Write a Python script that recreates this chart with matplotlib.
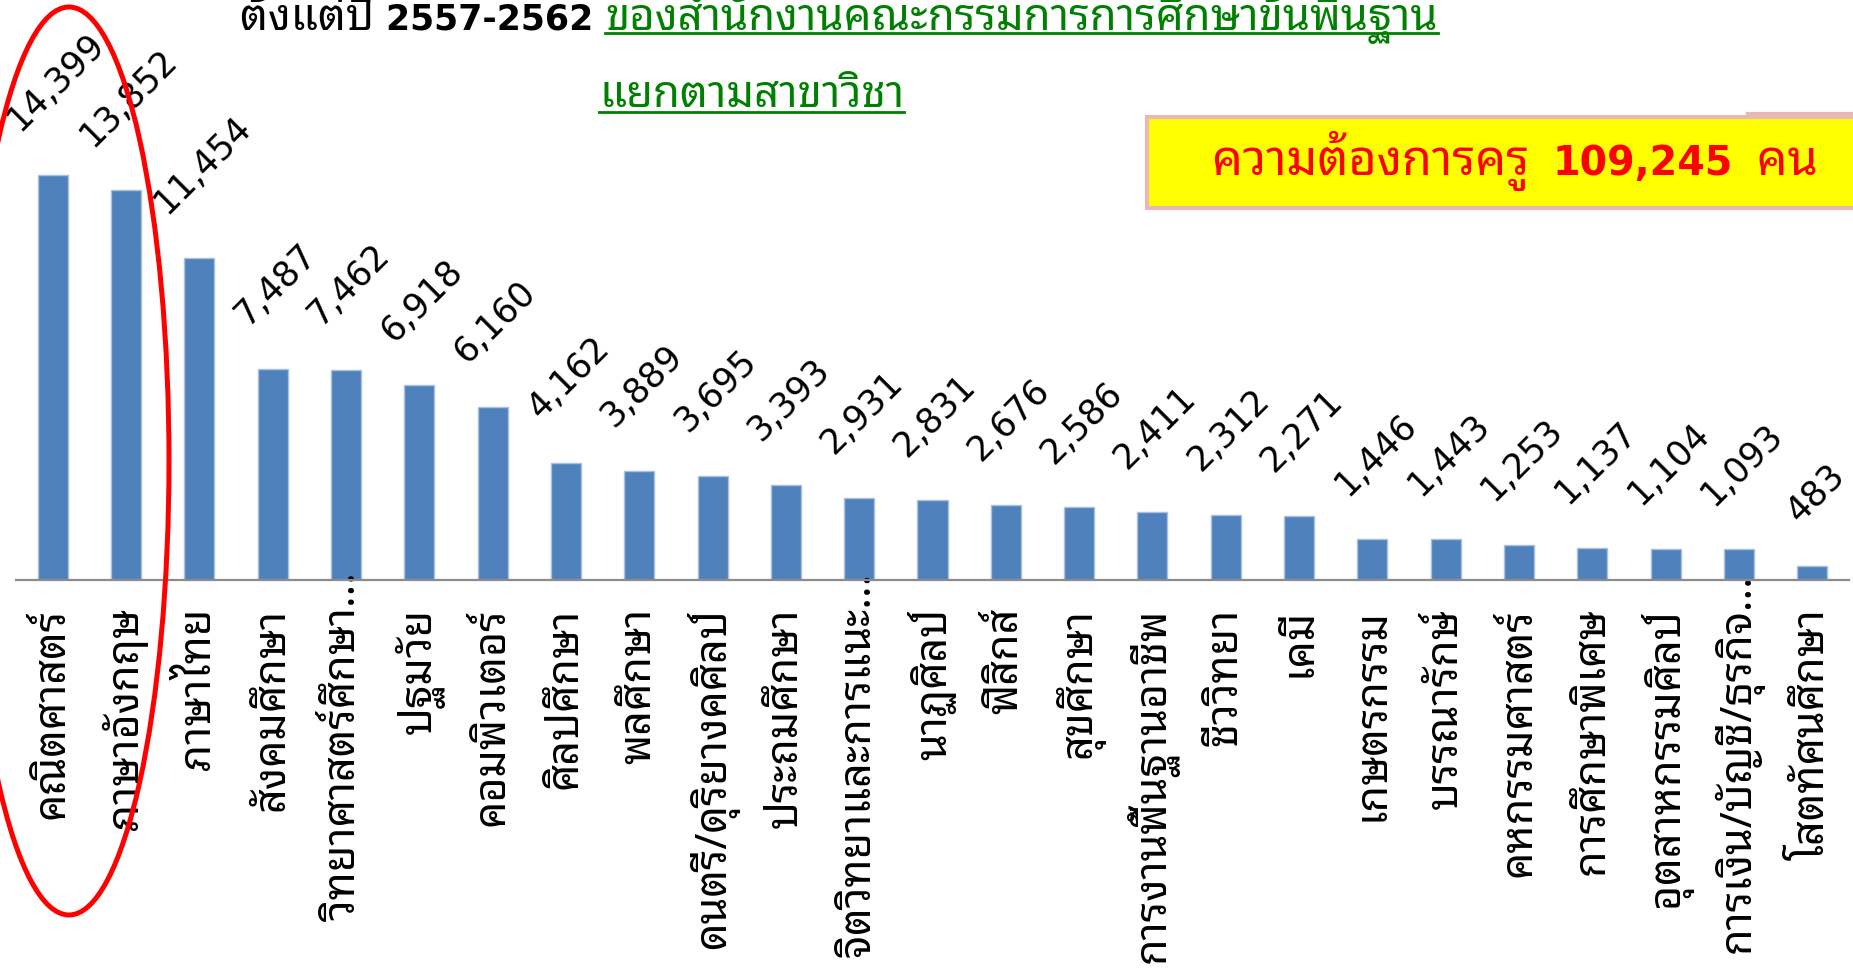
import matplotlib
matplotlib.use('Agg')
from matplotlib import pyplot as plt
from matplotlib import font_manager
from matplotlib.patches import Ellipse, Rectangle
from matplotlib.lines import Line2D
from matplotlib.transforms import ScaledTranslation

subjects = ['คณิตศาสตร์', 'ภาษาอังกฤษ', 'ภาษาไทย', 'สังคมศึกษา', 'วิทยาศาสตร์ศึกษา...',
            'ปฐมวัย', 'คอมพิวเตอร์', 'ศิลปศึกษา', 'พลศึกษา', 'ดนตรี/ดุริยางคศิลป์',
            'ประถมศึกษา', 'จิตวิทยาและการแนะ...', 'นาฏศิลป์', 'ฟิสิกส์', 'สุขศึกษา',
            'การงานพื้นฐานอาชีพ', 'ชีววิทยา', 'เคมี', 'เกษตรกรรม', 'บรรณารักษ์',
            'คหกรรมศาสตร์', 'การศึกษาพิเศษ', 'อุตสาหกรรมศิลป์', 'การเงิน/บัญชี/ธุรกิจ...', 'โสตทัศนศึกษา']
demand = [14399, 13852, 11454, 7487, 7462, 6918, 6160, 4162, 3889, 3695, 3393, 2931, 2831,
          2676, 2586, 2411, 2312, 2271, 1446, 1443, 1253, 1137, 1104, 1093, 483]
total = 109245

title_parts = [('ตั้งแต่ปี ', 'black', 'th'), ('2557-2562 ', 'black', 'num'),
               ('ของสำนักงานคณะกรรมการการศึกษาขั้นพื้นฐาน', '#008000', 'th')]
title_line2 = 'แยกตามสาขาวิชา'
box_parts = [('ความต้องการครู ', 'th'), ('{:,}'.format(total), 'num'), (' คน', 'th')]

# pick a looped thai font that is installed
installed = set(f.name for f in font_manager.fontManager.ttflist)
thai = 'DejaVu Sans'
for name in ['Noto Sans Thai Looped', 'IBM Plex Sans Thai Looped', 'Sarabun', 'Noto Sans Thai', 'Anuphan']:
    if name in installed:
        thai = name
        break
th_fam = [thai, 'DejaVu Sans']
num_fam = ['DejaVu Sans']
plt.rcParams['font.family'] = num_fam

W, H = 1853, 973
fig = plt.figure(figsize=(W / 100, H / 100), dpi=100)
ax = fig.add_axes([16 / W, 1 - 580 / H, 1833 / W, 580 / H])
ax.patch.set_alpha(0)

xs = list(range(len(demand)))
ax.bar(xs, demand, width=0.41, color='#4F81BD', edgecolor='#a9c0de', linewidth=1)
ax.set_xlim(-0.5, len(demand) - 0.5)
ax.set_ylim(0, 20620)

for k in ['top', 'right', 'left']:
    ax.spines[k].set_visible(False)
ax.spines['bottom'].set_color('#8c8c8c')
ax.spines['bottom'].set_linewidth(1.6)
ax.set_yticks([])
ax.set_xticks(xs)
ax.set_xticklabels(subjects, rotation=90, fontsize=31, fontweight='bold', family=th_fam)
ax.tick_params(axis='x', length=0, pad=20)

for i, v in enumerate(demand):
    ax.annotate('{:,}'.format(v), xy=(i, v), xytext=(2, 27), textcoords='offset points',
                rotation=45, ha='center', va='bottom', fontsize=25)

fig.canvas.draw()
r = fig.canvas.get_renderer()

# truncated labels: the dots poke up over the axis line, like the slide
probe = fig.text(0, 0, '...', fontsize=31, fontweight='bold', family=th_fam)
dots = probe.get_window_extent(r).width
probe.remove()
for lab in ax.get_xticklabels():
    if lab.get_text().endswith('...'):
        lab.set_transform(lab.get_transform() + ScaledTranslation(0, dots / 100, fig.dpi_scale_trans))


def run_text(x, y, parts, th_size, num_size, gap=0):
    # lay pieces one after another on one baseline, return pixel span
    x0 = x
    for s, color, kind in parts:
        fam, size = (th_fam, th_size) if kind == 'th' else (num_fam, num_size)
        t = fig.text(x / W, y, s, fontsize=size, fontweight='bold', color=color,
                     family=fam, va='baseline')
        x = t.get_window_extent(r).x1 + gap
    return x0, x - gap


# title, top edge cut like the slide
y1 = 1 - 30 / H
run_text(240, y1, title_parts[:2], 31.5, 25)
gx0 = fig.texts[-1].get_window_extent(r).x1
_, gx1 = run_text(gx0, y1, title_parts[2:], 31.5, 25)
fig.add_artist(Line2D([gx0 / W, gx1 / W], [1 - 33 / H] * 2, color='#008000', lw=2, transform=fig.transFigure))

y2 = 1 - 107 / H
lx0, lx1 = run_text(599, y2, [(title_line2, '#008000', 'th')], 31.5, 25)
fig.add_artist(Line2D([lx0 / W, lx1 / W], [1 - 112 / H] * 2, color='#008000', lw=2, transform=fig.transFigure))

# yellow box
fig.add_artist(Rectangle((1147 / W, 1 - 208 / H), (W - 1147) / W + 0.01, 91 / H, transform=fig.transFigure,
                         facecolor='#ffff00', edgecolor='#e6b9b8', lw=3))
fig.add_artist(Line2D([1748 / W, 1], [1 - 114 / H] * 2, color='#e6b9b8', lw=3, transform=fig.transFigure))
run_text(1212, 1 - 175 / H, [(s, '#ff0000', k) for s, k in box_parts], 35, 28.5, gap=11)

# red ring round the two largest
fig.add_artist(Ellipse((69 / W, 1 - 461 / H), 200 / W, 908 / H, transform=fig.transFigure,
                       fill=False, edgecolor='#ff0000', lw=3.6))

fig.savefig('out.png', dpi=100)
